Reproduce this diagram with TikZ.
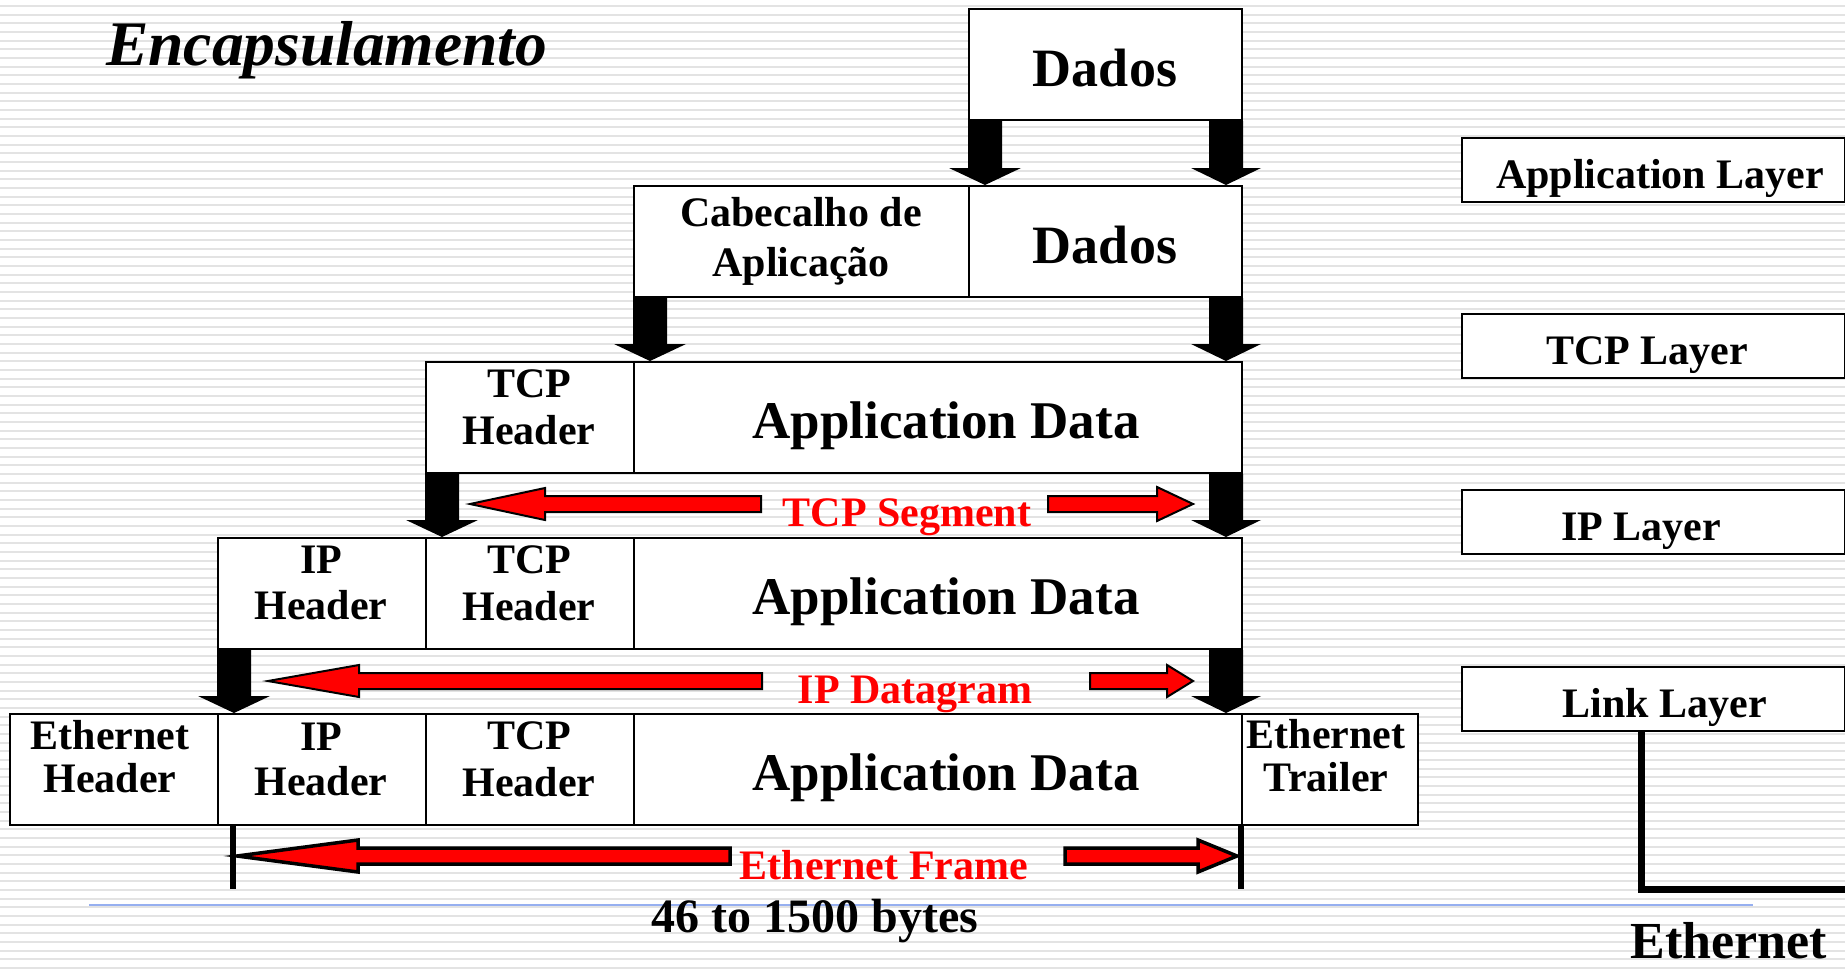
\documentclass[tikz,border=0pt]{standalone}
\usepackage{fontspec}
\setmainfont{Liberation Serif}
\usetikzlibrary{calc}

% two centred lines 42pt apart by #1; the node's base is the first line's baseline
\newcommand\twolines[3]{\fontsize{42}{#1}\selectfont\begin{tabular}[t]{@{}c@{}}#2\\#3\end{tabular}}

% black block arrow hanging from the lower-left corner of #1 down to the top of #2
\newcommand\dropL[2]{%
  \fill let \p1=(#1.south west), \p2=(#2.north) in
    (\x1,\y1) rectangle (\x1+34pt,\y2+17pt)
    (\x1+17pt-36pt,\y2+17pt) -- (\x1+17pt+36pt,\y2+17pt) -- (\x1+17pt,\y2) -- cycle;}
% the same from the lower-right corner
\newcommand\dropR[2]{%
  \fill let \p1=(#1.south east), \p2=(#2.north) in
    (\x1-34pt,\y1) rectangle (\x1,\y2+17pt)
    (\x1-17pt-35pt,\y2+17pt) -- (\x1-17pt+35pt,\y2+17pt) -- (\x1-17pt,\y2) -- cycle;}
% red block arrow: shaft end, head base, tip, axis y, head half-height, shaft half-height
\newcommand\redarrow[7][2pt]{%
  \filldraw[fill=red, draw=black, line width=#1, line join=miter]
    (#2,#5-#7) -- (#3,#5-#7) -- (#3,#5-#6) -- (#4,#5) -- (#3,#5+#6) -- (#3,#5+#7) -- (#2,#5+#7) -- cycle;}

\begin{document}
\begin{tikzpicture}[x=1pt,y=-1pt,
  box/.style={draw, line width=2pt, fill=white, rectangle, inner sep=0pt, anchor=north west},
  cell/.style={box, minimum height=111pt},
  layerbox/.style={box, minimum width=383pt, minimum height=64pt},
  txt/.style={font=\fontsize{42}{47}\selectfont\bfseries, inner sep=0pt, anchor=base},
  big/.style={font=\fontsize{53}{60}\selectfont\bfseries, inner sep=0pt, anchor=base},
  redtxt/.style={txt, text=red},
  stripe/.style={line width=2pt, draw=black!11},
  bar/.style={line width=6pt},
  wire/.style={line width=7pt, line join=miter},
]
% page and striped background
\useasboundingbox (0,0) rectangle (1845,969);
\fill[white] (0,0) rectangle (1845,969);
\foreach \i in {0,...,111}
  \draw[stripe] (0,6+8.667*\i) -- (1845,6+8.667*\i);

% title
\node[font=\fontsize{63.5}{70}\selectfont\bfseries\itshape, inner sep=0pt, anchor=base west] (title) at (106,65) {Encapsulamento};

% packet rows
\node[cell, minimum width=273pt] (d1) at (968,8) {};
\node[cell, minimum width=335pt] (c2) at (633,185) {};
\node[cell, minimum width=273pt] (d2) at (968,185) {};
\node[cell, minimum width=208pt] (h3) at (425,361) {};
\node[cell, minimum width=608pt] (a3) at (633,361) {};
\node[cell, minimum width=208pt] (ip4) at (217,537) {};
\node[cell, minimum width=208pt] (h4) at (425,537) {};
\node[cell, minimum width=608pt] (a4) at (633,537) {};
\node[cell, minimum width=208pt] (e5) at (9,713) {};
\node[cell, minimum width=208pt] (ip5) at (217,713) {};
\node[cell, minimum width=208pt] (h5) at (425,713) {};
\node[cell, minimum width=608pt] (a5) at (633,713) {};
\node[cell, minimum width=176pt] (t5) at (1241,713) {};

% cell labels
\node[big, font=\fontsize{54}{60}\selectfont\bfseries] (d1t) at (1105,86) {Dados};
\node[big, font=\fontsize{54}{60}\selectfont\bfseries] (d2t) at (1105,263) {Dados};
\node[txt] (c2t) at (801,226) {\twolines{50}{Cabecalho de}{Aplicação}};
\node[txt] (h3t) at (529,397) {\twolines{47}{TCP}{Header}};
\node[big] (a3t) at (946,438) {Application Data};
\node[txt] (ip4t) at (321,573) {\twolines{46}{IP}{Header}};
\node[txt] (h4t) at (529,573) {\twolines{47}{TCP}{Header}};
\node[big] (a4t) at (946,614) {Application Data};
\node[txt] (e5t) at (110,749) {\twolines{43}{Ethernet}{Header}};
\node[txt] (ip5t) at (321,750) {\twolines{45}{IP}{Header}};
\node[txt] (h5t) at (529,749) {\twolines{47}{TCP}{Header}};
\node[big] (a5t) at (946,790) {Application Data};
\node[txt] (t5t) at (1326,748) {\twolines{43}{Ethernet}{Trailer}};

% encapsulation arrows
\dropL{d1}{c2}
\dropR{d1}{d2}
\dropL{c2}{h3}
\dropR{d2}{a3}
\dropL{h3}{ip4}
\dropR{a3}{a4}
\dropL{ip4}{e5}
\dropR{a4}{a5}

% span labels with red arrows
\node[redtxt] (seg) at (907,526) {TCP Segment};
\redarrow{761}{545}{470}{504}{16}{8}
\redarrow{1048}{1157}{1193}{504}{17}{8}

\node[redtxt] (dgram) at (915,703) {IP Datagram};
\redarrow{762}{359}{268}{681}{16}{8}
\redarrow{1090}{1167}{1193}{681}{16}{8}

\node[redtxt] (frame) at (884,879) {Ethernet Frame};
\draw[bar] ($(ip5.south west)+(16,0)$) -- ++(0,63);
\draw[bar] (t5.south west) -- ++(0,63);
\redarrow[3.5pt]{730}{358}{237}{856}{16}{8}
\redarrow[3.5pt]{1065}{1198}{1237}{856}{16}{8}

% size note
\draw[line width=2pt, draw={rgb,255:red,150;green,175;blue,240}] (89,905) -- (1753,905);
\node[txt, font=\fontsize{48}{54}\selectfont\bfseries] (bytes) at (815,932) {46 to 1500 bytes};

% protocol layers
\node[layerbox] (app) at (1461,137) {};
\node[layerbox] (tcp) at (1461,313) {};
\node[layerbox] (ipl) at (1461,489) {};
\node[layerbox] (link) at (1461,666) {};
\node[txt] (appt) at (1660,188) {Application Layer};
\node[txt] (tcpt) at (1647,364) {TCP Layer};
\node[txt] (iplt) at (1641,540) {IP Layer};
\node[txt] (linkt) at (1665,717) {Link Layer};

% link layer down to the wire
\coordinate (bend) at (1641,889);
\coordinate (wireend) at (1850,889);
\draw[wire] (bend |- link.south) -- (bend) -- (wireend);
\node[txt, font=\fontsize{52}{58}\selectfont\bfseries] (eth) at (1729,958) {Ethernet};
\end{tikzpicture}
\end{document}
